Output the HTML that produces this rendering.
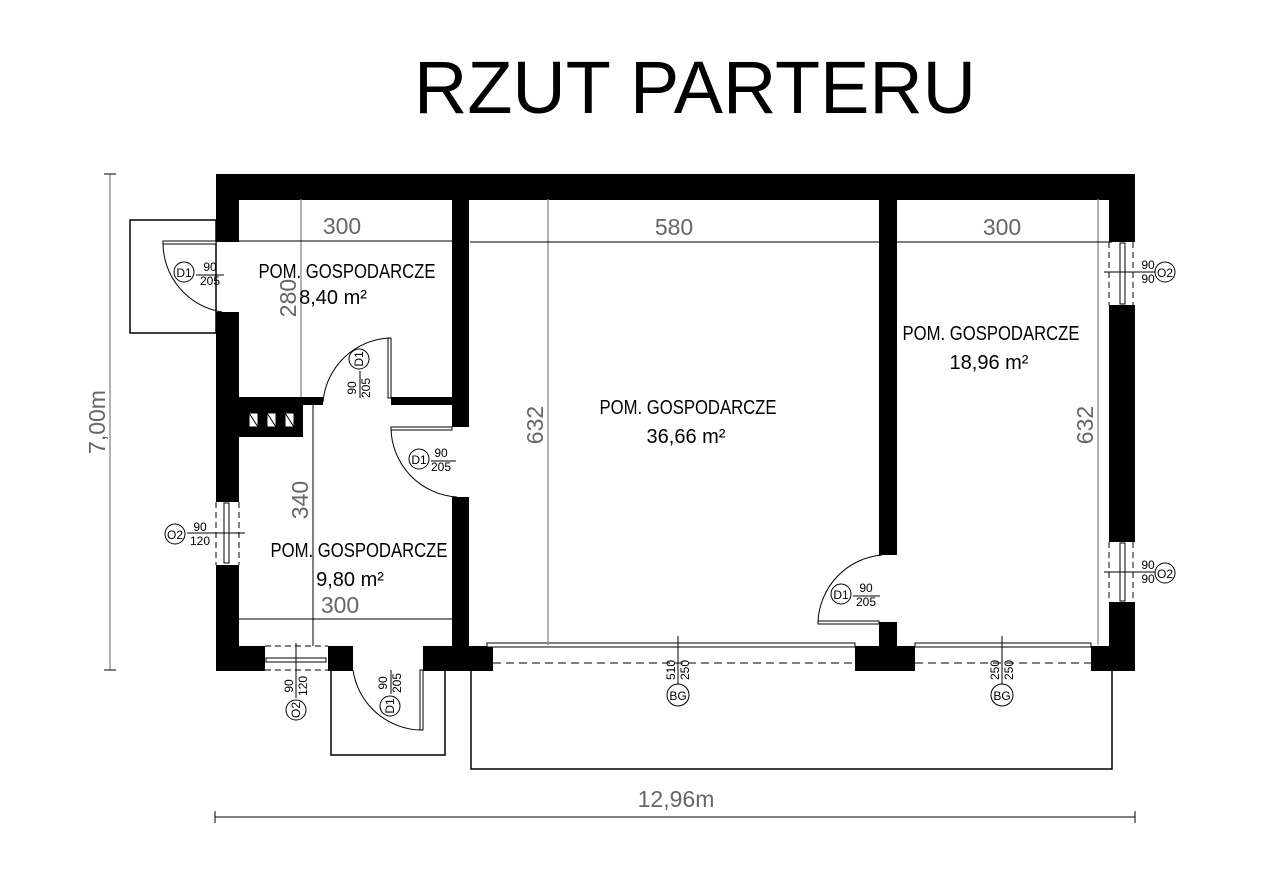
<!DOCTYPE html>
<html><head><meta charset="utf-8"><style>
html,body{margin:0;padding:0;background:#fff;}
svg{display:block;}
text{font-family:"Liberation Sans",sans-serif;}
</style></head><body>
<svg width="1272" height="894" viewBox="0 0 1272 894" xmlns="http://www.w3.org/2000/svg">
<rect width="1272" height="894" fill="#fff"/>
<text x="695" y="113" font-size="74" text-anchor="middle" textLength="562" lengthAdjust="spacingAndGlyphs">RZUT PARTERU</text>

<g fill="none" stroke="#000" stroke-width="1.5">
<rect x="130" y="220" width="86" height="113"/>
<polyline points="331,670 331,755 445,755 445,670"/>
<polyline points="471,670 471,769 1112,769 1112,670"/>
</g>

<g fill="#000">
<rect x="216" y="174" width="919" height="26"/>
<rect x="216" y="174" width="23" height="68"/>
<rect x="216" y="312" width="23" height="190"/>
<rect x="216" y="565" width="23" height="106"/>
<rect x="216" y="646" width="49" height="25"/>
<rect x="328" y="646" width="25" height="25"/>
<rect x="423" y="646" width="70" height="25"/>
<rect x="452" y="198" width="17" height="229"/>
<rect x="452" y="497" width="17" height="150"/>
<rect x="216" y="397" width="107" height="8"/>
<rect x="391" y="397" width="62" height="8"/>
<rect x="216" y="397" width="87" height="40"/>
<rect x="879" y="198" width="18" height="357"/>
<rect x="879" y="622" width="18" height="25"/>
<rect x="855" y="646" width="60" height="25"/>
<rect x="1109" y="174" width="26" height="68"/>
<rect x="1109" y="305" width="26" height="237"/>
<rect x="1109" y="602" width="26" height="69"/>
<rect x="1091" y="646" width="44" height="25"/>
</g>
<g fill="#fff" stroke="#000" stroke-width="1">
<rect x="249" y="413" width="9" height="14"/>
<rect x="267" y="413" width="9" height="14"/>
<rect x="285" y="413" width="9" height="14"/>
<line x1="249" y1="413" x2="258" y2="427"/>
<line x1="267" y1="413" x2="276" y2="427"/>
<line x1="285" y1="413" x2="294" y2="427"/>
</g>

<g fill="none" stroke="#000" stroke-width="1">
<rect x="224" y="503" width="5" height="60" fill="#fff"/>
<line x1="216" y1="502" x2="216" y2="565" stroke-dasharray="6,4"/>
<line x1="239" y1="502" x2="239" y2="565" stroke-dasharray="6,4"/>
<rect x="266" y="658" width="60" height="4" fill="#fff"/>
<line x1="265" y1="646" x2="328" y2="646" stroke-dasharray="6,4"/>
<line x1="265" y1="670" x2="328" y2="670" stroke-dasharray="6,4"/>
<rect x="1120" y="243" width="5" height="61" fill="#fff"/>
<line x1="1109" y1="242" x2="1109" y2="305" stroke-dasharray="6,4"/>
<line x1="1133" y1="242" x2="1133" y2="305" stroke-dasharray="6,4"/>
<rect x="1120" y="543" width="5" height="58" fill="#fff"/>
<line x1="1109" y1="542" x2="1109" y2="602" stroke-dasharray="6,4"/>
<line x1="1133" y1="542" x2="1133" y2="602" stroke-dasharray="6,4"/>
<rect x="487" y="643" width="368" height="4" fill="#fff"/>
<rect x="915" y="643" width="176" height="4" fill="#fff"/>
<line x1="493" y1="663" x2="855" y2="663" stroke-dasharray="8,5"/>
<line x1="915" y1="663" x2="1091" y2="663" stroke-dasharray="8,5"/>
</g>

<g fill="none" stroke="#000" stroke-width="1">
<rect x="163" y="241" width="53" height="3" fill="#fff"/>
<path d="M163,243 A70,70 0 0 0 222,312"/>
<rect x="388" y="338" width="3" height="60" fill="#fff"/>
<path d="M389,338 A70,70 0 0 0 323,402"/>
<rect x="391" y="427" width="61" height="3" fill="#fff"/>
<path d="M391,428 A70,70 0 0 0 457,497"/>
<rect x="818" y="621" width="61" height="3" fill="#fff"/>
<path d="M818,622 A70,70 0 0 1 882,555"/>
<rect x="420" y="670" width="3" height="60" fill="#fff"/>
<path d="M421,730 A70,70 0 0 1 353,670"/>
</g>

<g stroke="#888" stroke-width="1.3" fill="none">
<line x1="110" y1="174" x2="110" y2="670"/>
<line x1="301" y1="199" x2="301" y2="397"/>
<line x1="548" y1="199" x2="548" y2="645"/>
<line x1="1098" y1="199" x2="1098" y2="645"/>
</g>
<g stroke="#000" stroke-width="1" fill="none">
<line x1="239" y1="241" x2="452" y2="241"/>
<line x1="470" y1="242" x2="879" y2="242"/>
<line x1="896" y1="242" x2="1112" y2="242"/>
<line x1="313" y1="405" x2="313" y2="646"/>
<line x1="239" y1="619" x2="452" y2="619"/>
<line x1="215" y1="817" x2="1135" y2="817"/>
<line x1="104" y1="174" x2="116" y2="174"/><line x1="104" y1="670" x2="116" y2="670"/>
<line x1="215" y1="811" x2="215" y2="823"/><line x1="1135" y1="811" x2="1135" y2="823"/>
</g>
<g fill="#666" font-size="23">
<text x="342" y="234" text-anchor="middle">300</text>
<text x="674" y="235" text-anchor="middle">580</text>
<text x="1002" y="235" text-anchor="middle">300</text>
<text x="340" y="613" text-anchor="middle">300</text>
<text transform="translate(296,298) rotate(-90)" text-anchor="middle">280</text>
<text transform="translate(308,500) rotate(-90)" text-anchor="middle">340</text>
<text transform="translate(543,425) rotate(-90)" text-anchor="middle">632</text>
<text transform="translate(1093,425) rotate(-90)" text-anchor="middle">632</text>
<text transform="translate(105,422) rotate(-90)" text-anchor="middle">7,00m</text>
<text x="676" y="807" text-anchor="middle">12,96m</text>
</g>

<g font-size="20" fill="#000" text-anchor="middle">
<text x="347" y="278" textLength="177" lengthAdjust="spacingAndGlyphs">POM. GOSPODARCZE</text>
<text x="333" y="304">8,40 m²</text>
<text x="688" y="414" textLength="177" lengthAdjust="spacingAndGlyphs">POM. GOSPODARCZE</text>
<text x="686" y="443">36,66 m²</text>
<text x="991" y="340" textLength="177" lengthAdjust="spacingAndGlyphs">POM. GOSPODARCZE</text>
<text x="989" y="369">18,96 m²</text>
<text x="359" y="557" textLength="177" lengthAdjust="spacingAndGlyphs">POM. GOSPODARCZE</text>
<text x="350" y="586">9,80 m²</text>
</g>

<g fill="none" stroke="#000" stroke-width="1">
<circle cx="184" cy="272" r="10"/><line x1="196" y1="275" x2="224" y2="275"/>
<circle cx="419" cy="459" r="10"/><line x1="431" y1="461" x2="456" y2="461"/>
<circle cx="841" cy="594" r="10"/><line x1="853" y1="596" x2="880" y2="596"/>
<circle cx="359" cy="359" r="10"/><line x1="360" y1="371" x2="360" y2="398"/>
<circle cx="390" cy="706" r="10"/><line x1="391" y1="670" x2="391" y2="694"/>
<circle cx="175" cy="534" r="10"/><line x1="187" y1="533" x2="245" y2="533"/>
<circle cx="296" cy="710" r="10"/><line x1="296" y1="643" x2="296" y2="698"/>
<circle cx="1165" cy="272" r="10"/><line x1="1104" y1="272" x2="1155" y2="272"/>
<circle cx="1165" cy="573" r="10"/><line x1="1104" y1="572" x2="1155" y2="572"/>
<circle cx="678" cy="695" r="11"/><line x1="678" y1="636" x2="678" y2="684"/>
<circle cx="1002" cy="695" r="11"/><line x1="1002" y1="636" x2="1002" y2="684"/>
</g>
<g font-size="12" fill="#000" text-anchor="middle">
<text x="184" y="277">D1</text><text x="210" y="271">90</text><text x="210" y="285">205</text>
<text x="419" y="464">D1</text><text x="441" y="457">90</text><text x="441" y="471">205</text>
<text x="841" y="599">D1</text><text x="866" y="592">90</text><text x="866" y="606">205</text>
<text transform="translate(363,359) rotate(-90)">D1</text>
<text transform="translate(356,388) rotate(-90)">90</text><text transform="translate(370,388) rotate(-90)">205</text>
<text transform="translate(394,706) rotate(-90)">D1</text>
<text transform="translate(387,683) rotate(-90)">90</text><text transform="translate(401,683) rotate(-90)">205</text>
<text x="175" y="539">O2</text><text x="200" y="531">90</text><text x="200" y="545">120</text>
<text transform="translate(300,710) rotate(-90)">O2</text>
<text transform="translate(293,686) rotate(-90)">90</text><text transform="translate(307,686) rotate(-90)">120</text>
<text x="1165" y="277">O2</text><text x="1148" y="269">90</text><text x="1148" y="283">90</text>
<text x="1165" y="578">O2</text><text x="1148" y="569">90</text><text x="1148" y="583">90</text>
<text x="678" y="700">BG</text>
<text transform="translate(675,670) rotate(-90)">510</text><text transform="translate(689,670) rotate(-90)">250</text>
<text x="1002" y="700">BG</text>
<text transform="translate(999,670) rotate(-90)">250</text><text transform="translate(1013,670) rotate(-90)">250</text>
</g>
</svg>
</body></html>
